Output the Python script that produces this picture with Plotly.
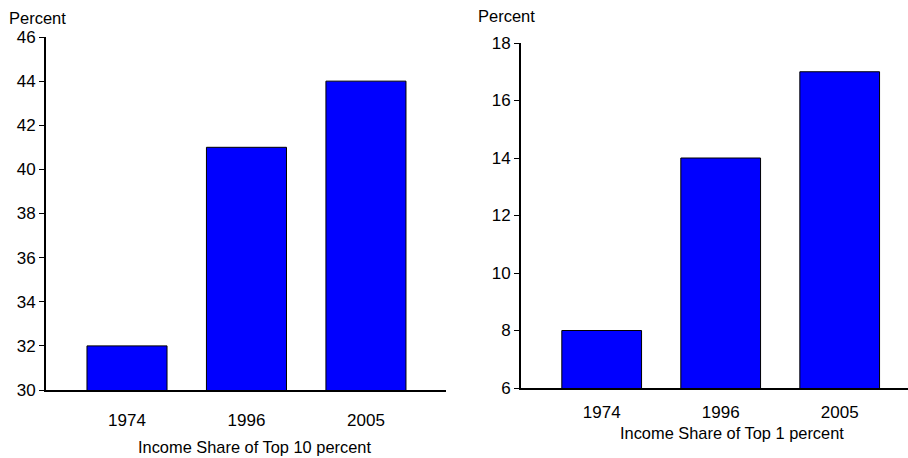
import plotly.graph_objects as go

years = ["1974", "1996", "2005"]
top10_share = [32, 41, 44]
top1_share = [8, 14, 17]
y_label = "Percent"
left_title = "Income Share of Top 10 percent"
right_title = "Income Share of Top 1 percent"

W, H = 908, 458
FONT = "Liberation Sans, Arial, sans-serif"

fig = go.Figure()
bar_style = dict(marker=dict(color="#0000FF", line=dict(color="black", width=1)),
                 width=0.67, showlegend=False, hoverinfo="x+y")
fig.add_trace(go.Bar(x=years, y=top10_share, xaxis="x", yaxis="y", **bar_style))
fig.add_trace(go.Bar(x=years, y=top1_share, xaxis="x2", yaxis="y2", **bar_style))

def px_x(p):
    return p / W

def px_y(p):
    return (H - p) / H

common_x = dict(type="category", showline=True, linecolor="black", linewidth=2,
                ticks="", showgrid=False, zeroline=False, automargin=False,
                tickfont=dict(family=FONT, size=17, color="black"))
common_y = dict(showline=True, linecolor="black", linewidth=2, ticks="outside",
                ticklen=5, tickwidth=1, tickcolor="black", showgrid=False,
                zeroline=False, dtick=2, automargin=False,
                tickfont=dict(family=FONT, size=17, color="black"))

fig.update_layout(
    width=W, height=H,
    margin=dict(l=0, r=0, t=0, b=0, pad=0, autoexpand=False),
    paper_bgcolor="white", plot_bgcolor="white",
    font=dict(family=FONT, color="black"),
    xaxis=dict(domain=[px_x(46), px_x(446)], range=[-0.678, 2.67],
               anchor="y", ticklabelstandoff=14, **common_x),
    yaxis=dict(domain=[px_y(390), px_y(37)], range=[30, 46], anchor="x", **common_y),
    xaxis2=dict(domain=[px_x(521), 1.0], range=[-0.678, 2.574],
                anchor="y2", ticklabelstandoff=8, **common_x),
    yaxis2=dict(domain=[px_y(388), px_y(43)], range=[6, 18], anchor="x2", **common_y),
    annotations=[
        dict(text=y_label, xref="paper", yref="paper", x=px_x(37), y=px_y(18),
             xanchor="center", yanchor="middle", showarrow=False,
             font=dict(family=FONT, size=16.5, color="black")),
        dict(text=y_label, xref="paper", yref="paper", x=px_x(507), y=px_y(16),
             xanchor="center", yanchor="middle", showarrow=False,
             font=dict(family=FONT, size=16.5, color="black")),
        dict(text=left_title, xref="paper", yref="paper", x=px_x(254), y=px_y(447),
             xanchor="center", yanchor="middle", showarrow=False,
             font=dict(family=FONT, size=16.4, color="black")),
        dict(text=right_title, xref="paper", yref="paper", x=px_x(732), y=px_y(433),
             xanchor="center", yanchor="middle", showarrow=False,
             font=dict(family=FONT, size=16.4, color="black")),
    ],
)

fig.write_html(
    "out.html",
    config={"displayModeBar": False},
    post_script="document.body.style.margin='0px';document.body.style.padding='0px';"
                "document.body.style.overflow='hidden';",
)
